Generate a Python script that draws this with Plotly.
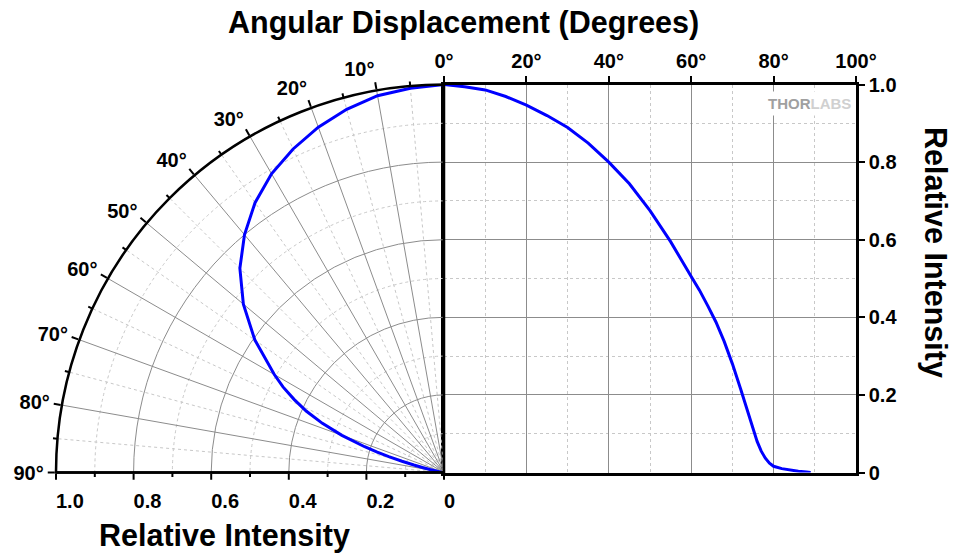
import plotly.graph_objects as go

angle_deg = [0, 5, 10, 15, 20, 25, 30, 35, 40, 45, 50, 55, 60, 62, 64, 66, 68, 70,
             72, 73, 74, 75, 76, 77, 78, 79, 80, 82, 84, 86, 88, 89]
intensity = [1.0, 0.994, 0.986, 0.969, 0.947, 0.920, 0.889, 0.849, 0.800, 0.744,
             0.675, 0.595, 0.505, 0.470, 0.430, 0.388, 0.338, 0.280, 0.215, 0.180,
             0.148, 0.112, 0.080, 0.055, 0.037, 0.024, 0.016, 0.010, 0.006, 0.003,
             0.001, 0.0]

cart_tickvals = [0, 20, 40, 60, 80, 100]
cart_ticktext = ["0°", "20°", "40°", "60°", "80°", "100°"]
int_tickvals = [0, 0.2, 0.4, 0.6, 0.8, 1.0]
int_ticktext = ["0", "0.2", "0.4", "0.6", "0.8", "1.0"]
polar_major_angles = [0, 10, 20, 30, 40, 50, 60, 70, 80, 90]
polar_major_text = ["", "10°", "20°", "30°", "40°", "50°", "60°", "70°", "80°", "90°"]
polar_minor_angles = [5, 15, 25, 35, 45, 55, 65, 75, 85]
minor_r = [0.1, 0.3, 0.5, 0.7, 0.9]

W, H = 957, 553
BLUE = "#0000ff"
MAJOR_GRID = "#8c8c8c"
MINOR_GRID = "#c8c8c8"
FONT = "Arial"

# pixel layout
cx, top_px, bot_px, right_px, R = 444, 84.5, 472.5, 856, 388
ydom = [(H - bot_px) / H, (H - top_px) / H]
polar_dom = dict(x=[(cx - R) / W, cx / W], y=ydom)

tickfont = dict(family=FONT, size=20, color="black", weight="bold")

fig = go.Figure()

# invisible trace to bring up the minor-grid polar
fig.add_trace(go.Scatterpolar(r=[0], theta=[0], mode="markers", marker=dict(opacity=0),
                              subplot="polar", showlegend=False, hoverinfo="skip"))
fig.add_trace(go.Scatterpolar(r=intensity, theta=angle_deg, mode="lines",
                              line=dict(color=BLUE, width=3), subplot="polar2",
                              showlegend=False))
fig.add_trace(go.Scatter(x=angle_deg, y=intensity, mode="lines",
                         line=dict(color=BLUE, width=3), showlegend=False))

common_ang = dict(rotation=90, direction="counterclockwise", thetaunit="degrees")

fig.update_layout(
    template="none",
    width=W, height=H, autosize=False,
    margin=dict(l=0, r=0, t=0, b=0, pad=0),
    paper_bgcolor="white", plot_bgcolor="rgba(0,0,0,0)",
    showlegend=False,
    polar=dict(
        domain=polar_dom, sector=[90, 180], bgcolor="rgba(0,0,0,0)",
        angularaxis=dict(**common_ang, tickmode="array", tickvals=polar_minor_angles,
                         showticklabels=False, ticks="outside", ticklen=4, tickwidth=2,
                         tickcolor="black", showline=False,
                         gridcolor=MINOR_GRID, griddash="dot", gridwidth=1),
        radialaxis=dict(range=[0, 1], angle=180, side="counterclockwise",
                        tickmode="array", tickvals=minor_r, showticklabels=False,
                        ticks="outside", ticklen=4, tickwidth=2, tickcolor="black",
                        showline=False, gridcolor=MINOR_GRID, griddash="dot", gridwidth=1),
    ),
    polar2=dict(
        domain=polar_dom, sector=[90, 180], bgcolor="rgba(0,0,0,0)",
        angularaxis=dict(**common_ang, tickmode="array", tickvals=polar_major_angles,
                         ticktext=polar_major_text, tickfont=tickfont,
                         ticks="outside", ticklen=7, tickwidth=2, tickcolor="black",
                         showline=True, linecolor="black", linewidth=2.5,
                         gridcolor=MAJOR_GRID, gridwidth=1),
        radialaxis=dict(range=[0, 1], angle=180, side="counterclockwise",
                        tickmode="array", tickvals=int_tickvals, ticktext=int_ticktext,
                        tickfont=tickfont, tickangle=180,
                        ticks="outside", ticklen=6, tickwidth=2, tickcolor="black",
                        showline=True, linecolor="black", linewidth=2.5,
                        gridcolor=MAJOR_GRID, gridwidth=1),
    ),
    xaxis=dict(
        domain=[cx / W, right_px / W], range=[0, 100], side="top", automargin=False,
        tickmode="array", tickvals=cart_tickvals, ticktext=cart_ticktext,
        tickfont=tickfont, ticks="outside", ticklen=6, tickwidth=2, tickcolor="black",
        showline=True, linecolor="black", linewidth=2.5, mirror=True,
        showgrid=True, gridcolor=MAJOR_GRID, gridwidth=1, zeroline=False,
        minor=dict(dtick=10, showgrid=True, gridcolor=MINOR_GRID, griddash="dot", ticks=""),
    ),
    yaxis=dict(
        domain=ydom, range=[0, 1], side="right", automargin=False,
        tickmode="array", tickvals=int_tickvals, ticktext=int_ticktext,
        tickfont=tickfont, ticks="outside", ticklen=6, tickwidth=2, tickcolor="black",
        showline=True, linecolor="black", linewidth=2.5, mirror=True,
        showgrid=True, gridcolor=MAJOR_GRID, gridwidth=1, zeroline=False,
        minor=dict(dtick=0.1, showgrid=True, gridcolor=MINOR_GRID, griddash="dot", ticks=""),
    ),
)

title_font = dict(family=FONT, size=30.5, color="black", weight="bold")
fig.add_annotation(text="Angular Displacement (Degrees)", xref="paper", yref="paper",
                   x=463 / W, y=(H - 23) / H, xanchor="center", yanchor="middle",
                   showarrow=False, font=title_font)
fig.add_annotation(text="Relative Intensity", xref="paper", yref="paper",
                   x=224 / W, y=(H - 535) / H, xanchor="center", yanchor="middle",
                   showarrow=False, font=title_font)
fig.add_annotation(text="Relative Intensity", xref="paper", yref="paper",
                   x=936 / W, y=(H - 252) / H, xanchor="center", yanchor="middle",
                   textangle=90, showarrow=False, font=title_font)
fig.add_annotation(text="<span style='color:#a0a0a0'>THOR</span><span style='color:#d0d0d0'>LABS</span>",
                   xref="paper", yref="paper", x=855 / W, y=(H - 104) / H,
                   xanchor="right", yanchor="middle", showarrow=False,
                   bgcolor="white", borderpad=3,
                   font=dict(family=FONT, size=15, weight="bold"))

# drop the browser's default body margin so the figure sits at the page corner
fig.write_html("out.html", config={"displayModeBar": False},
               post_script="document.body.style.margin = '0';")
